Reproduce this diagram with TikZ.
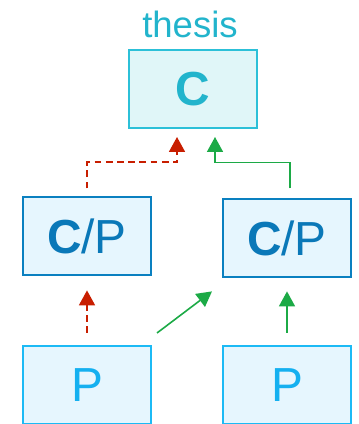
\documentclass[tikz,border=0pt]{standalone}
\usepackage{fontspec}
\setmainfont{Liberation Sans}
\usetikzlibrary{arrows.meta}
\usetikzlibrary{positioning}

\definecolor{thesisfg}{HTML}{22B4CC}
\definecolor{thesisbd}{HTML}{2CC0D8}
\definecolor{thesisbg}{HTML}{E0F6F8}
\definecolor{cpfg}{HTML}{0A78B8}
\definecolor{cpbd}{HTML}{0A80C0}
\definecolor{boxbg}{HTML}{E6F6FE}
\definecolor{pfg}{HTML}{14B0F0}
\definecolor{pbd}{HTML}{1CBAF5}
\definecolor{arrred}{HTML}{C81E00}
\definecolor{arrgreen}{HTML}{1CAA46}

\begin{document}
\begin{tikzpicture}
    [   > = {Triangle[length=3.75mm,width=4mm]}
    ,   box/.style = {draw, line width=0.5mm, minimum width=32mm,
                      minimum height=19.5mm, inner sep=0pt,
                      text depth=0pt, font=\fontsize{34}{40}\selectfont}
    ,   thesisbox/.style = {box, draw=thesisbd, fill=thesisbg, text=thesisfg}
    ,   cpbox/.style = {box, draw=cpbd, fill=boxbg, text=cpfg}
    ,   pbox/.style = {box, draw=pbd, fill=boxbg, text=pfg}
    ,   redarr/.style = {->, arrred, line width=0.45mm,
                         dash pattern=on 1.7mm off 1.1mm}
    ,   greenarr/.style = {->, arrgreen, line width=0.4mm}
    ]
    \useasboundingbox (0mm,0mm) rectangle (89.5mm,106mm);

    \node[thesisbox] (C) at (48.25mm,83.75mm) {\bfseries C};
    \node[text=thesisfg, font=\fontsize{26}{30}\selectfont] (thesis)
        at (47.5mm,100mm) {thesis};

    \node[cpbox] (CPl) at (21.75mm,46.9mm) {\textbf{C}/P};
    \node[cpbox] (CPr) at (71.75mm,46.4mm) {\textbf{C}/P};

    \node[pbox] (Pl) at (21.75mm,9.75mm) {P};
    \node[pbox] (Pr) at (71.75mm,9.75mm) {P};

    \draw[redarr, shorten <=2mm, shorten >=2mm]
    (CPl.north) -- ++(0mm,8.5mm) -| ([xshift=-4mm]C.south);
    \draw[greenarr, shorten <=2.5mm, shorten >=2mm]
    ([xshift=0.75mm]CPr.north) -- ++(0mm,9mm) -| ([xshift=5.5mm]C.south);

    \draw[redarr, shorten <=3mm, shorten >=3.5mm] (Pl.north) -- (CPl.south);
    \draw[greenarr, shorten <=3mm, shorten >=3.25mm] (Pr.north) -- (CPr.south);
    \draw[greenarr]
    ([shift={(1.25mm,3mm)}]Pl.north east)
    -- ([shift={(-2.5mm,-3.25mm)}]CPr.south west);
\end{tikzpicture}
\end{document}
